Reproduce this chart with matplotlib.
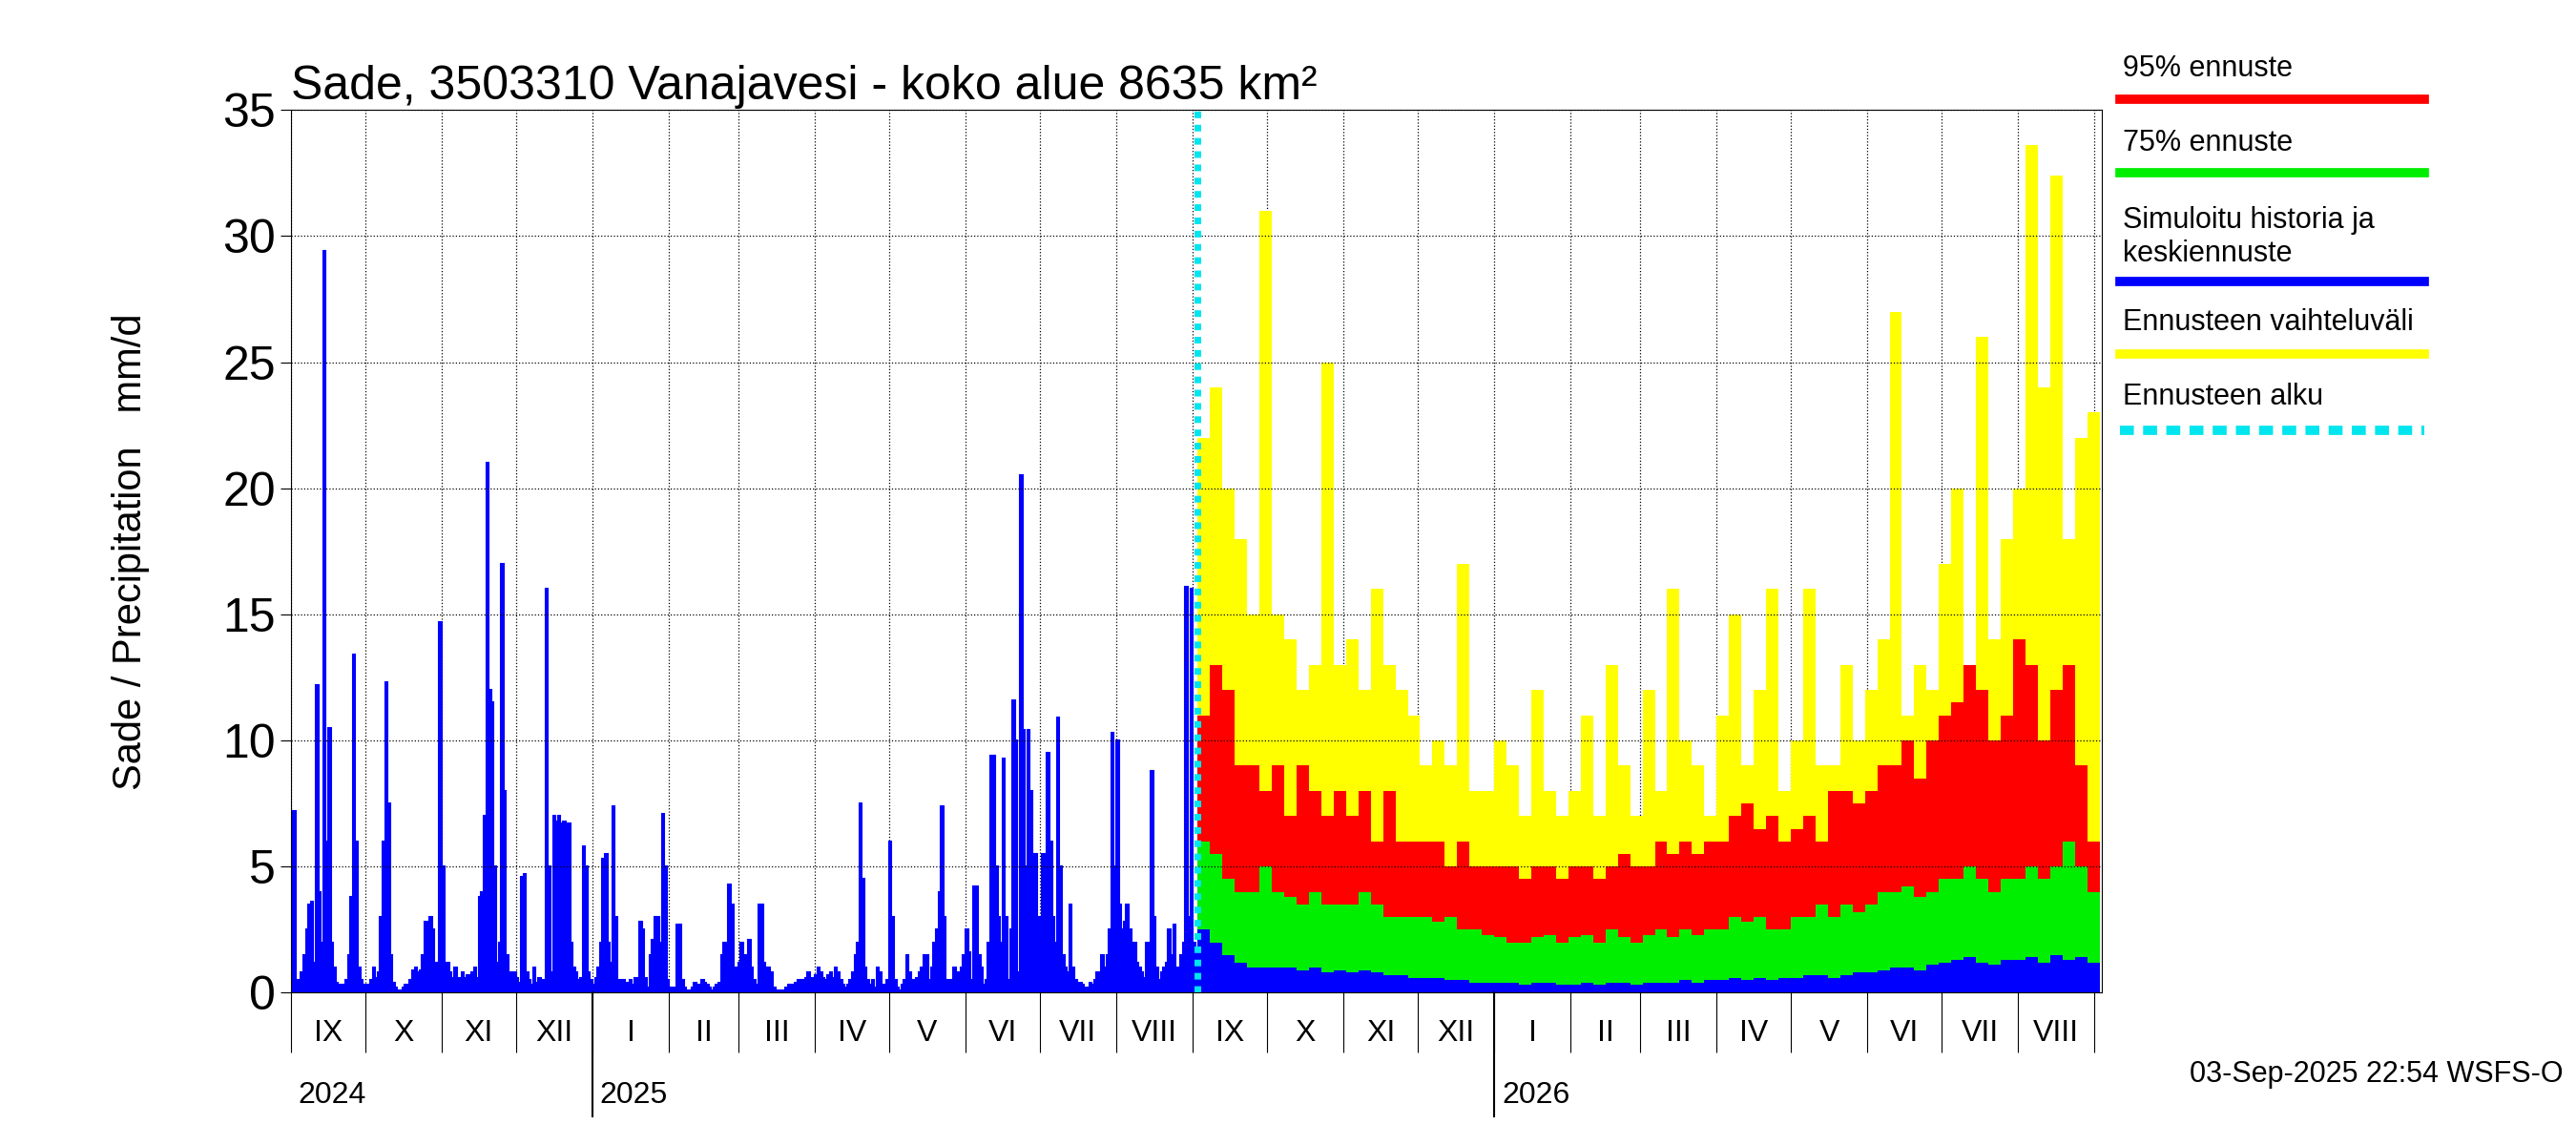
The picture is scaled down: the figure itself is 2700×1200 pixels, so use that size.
import numpy as np
import matplotlib.pyplot as plt
from matplotlib.lines import Line2D

plt.rcParams['font.family'] = 'Liberation Sans'

# daily observed/simulated precipitation from 2024-09-01, mm/d
history = [
    7.2, 7.2, 0.5, 0.3, 0.8, 1.5, 2.5, 3.5, 3.6, 1.2,
    12.2, 4, 2, 29.4, 6, 10.5, 2, 1, 0.4, 0.3,
    0.2, 0.3, 0.5, 1.5, 3.8, 13.4, 6, 1, 0.5, 0.3,
    0.2, 0.3, 0.5, 1, 0.6, 0.8, 3, 6, 12.3, 7.5,
    1.5, 0.4, 0.2, 0.1, 0.1, 0.2, 0.3, 0.2, 0.5, 0.9,
    1, 0.8, 0.9, 1.5, 2.8, 2.2, 3, 2.5, 1.2, 0.8,
    14.7, 5, 0.6, 1.2, 0.8, 0.6, 1, 0.5, 0.6, 0.8,
    0.6, 0.7, 0.6, 0.8, 1, 0.6, 3.8, 4, 7, 21,
    12, 11.5, 5, 1.2, 2, 17, 8, 1.5, 0.8, 0.5,
    0.8, 0.6, 0.4, 4.6, 4.7, 0.8, 0.5, 0.3, 1, 0.4,
    0.6, 0.3, 0.5, 16, 5, 0.8, 7, 6.8, 7, 6.7,
    6.8, 6.7, 6.7, 2, 1, 0.8, 0.5, 0.6, 5.8, 5,
    0.8, 0.5, 0.3, 0.6, 1, 2, 5.3, 5.5, 2, 1.2,
    7.4, 3, 0.5, 0.3, 0.5, 0.2, 0.4, 0.5, 0.3, 0.6,
    0.3, 2.8, 2.5, 0.6, 0.2, 1.5, 2.1, 3, 3, 2,
    7.1, 5, 0.5, 0.2, 0.1, 0.2, 2.7, 2.7, 0.5, 0.2,
    0.1, 0.1, 0.2, 0.4, 0.1, 0.3, 0.5, 0.4, 0.3, 0.2,
    0.1, 0.2, 0.3, 0.4, 1.5, 2, 1, 4.3, 3.5, 0.5,
    1, 1.2, 2, 1.5, 0.5, 2.1, 1, 0.5, 0.3, 3.5,
    3.5, 1.2, 1, 1, 0.8, 0.2, 0.1, 0.1, 0.1, 0.1,
    0.2, 0.3, 0.3, 0.2, 0.4, 0.5, 0.3, 0.5, 0.6, 0.8,
    0.5, 0.6, 0.7, 1, 0.8, 0.6, 0.5, 0.7, 0.8, 0.6,
    1, 0.8, 0.5, 0.3, 0.2, 0.3, 0.5, 0.8, 1.5, 2,
    7.5, 4.5, 1, 0.5, 0.3, 0.5, 0.2, 1, 0.8, 0.3,
    0.2, 0.5, 6, 3, 0.5, 0.2, 0.1, 0.3, 0.5, 1.5,
    0.8, 0.5, 0.3, 0.6, 0.8, 1, 1.5, 1.5, 0.5, 1,
    2, 2.5, 4, 7.4, 3, 0.5, 0.2, 0.5, 1, 0.4,
    0.8, 1, 1.5, 2.5, 1.6, 0.5, 4.2, 4.2, 1.5, 1,
    0.3, 0.5, 2, 9.4, 9.4, 5, 3, 2, 9.3, 3,
    0.5, 2.5, 11.6, 10, 0.8, 20.5, 10.4, 5, 10.4, 8,
    5.5, 5.5, 3, 1, 5.5, 2, 9.5, 6, 3, 2,
    10.9, 5, 1.5, 1, 0.8, 3.5, 1, 0.5, 0.3, 0.4,
    0.3, 0.2, 0.2, 0.4, 0.3, 0.5, 0.8, 0.6, 1.5, 1,
    1.5, 2.5, 10.3, 5, 10, 3.5, 2.5, 2.8, 3.5, 2.5,
    1.6, 2, 1.2, 1, 0.8, 0.6, 2, 1.5, 8.8, 3,
    1, 0.5, 0.8, 1, 1.2, 2.5, 1.5, 2.7, 1, 0.8,
    1.5, 2, 16.1, 3, 16, 2, 1.5, 1.8,
]

# forecast in 5-day steps from 2025-09-03
fc_max = [22, 24, 20, 18, 15, 31, 15, 14, 12, 13, 25, 13, 14, 12, 16, 13, 12, 11,
          9, 10, 9, 17, 8, 8, 10, 9, 7, 12, 8, 7, 8, 11, 7, 13, 9, 7,
          12, 8, 16, 10, 9, 7, 11, 15, 9, 12, 16, 8, 10, 16, 9, 9, 13, 10,
          12, 14, 27, 11, 13, 12, 17, 20, 13, 26, 14, 18, 20, 33.6, 24, 32.4, 18, 22, 23]
fc_95 = [11, 13, 12, 9, 9, 8, 9, 7, 9, 8, 7, 8, 7, 8, 6, 8, 6, 6,
         6, 6, 5, 6, 5, 5, 5, 5, 4.5, 5, 5, 4.5, 5, 5, 4.5, 5, 5.5, 5,
         5, 6, 5.5, 6, 5.5, 6, 6, 7, 7.5, 6.5, 7, 6, 6.5, 7, 6, 8, 8, 7.5,
         8, 9, 9, 10, 8.5, 10, 11, 11.5, 13, 12, 10, 11, 14, 13, 10, 12, 13, 9, 6]
fc_75 = [6, 5.5, 4.5, 4, 4, 5, 4, 3.8, 3.5, 4, 3.5, 3.5, 3.5, 4, 3.5, 3, 3, 3,
         3, 2.8, 3, 2.5, 2.5, 2.3, 2.2, 2, 2, 2.2, 2.3, 2, 2.2, 2.3, 2, 2.5, 2.2, 2,
         2.3, 2.5, 2.2, 2.5, 2.3, 2.5, 2.5, 3, 2.8, 3, 2.5, 2.5, 3, 3, 3.5, 3, 3.5, 3.2,
         3.5, 4, 4, 4.2, 3.8, 4, 4.5, 4.5, 5, 4.5, 4, 4.5, 4.5, 5, 4.5, 5, 6, 5, 4]
fc_med = [2.5, 2, 1.5, 1.2, 1, 1, 1, 1, 0.9, 1, 0.8, 0.9, 0.8, 0.9, 0.8, 0.7, 0.7, 0.6,
          0.6, 0.6, 0.5, 0.5, 0.4, 0.4, 0.4, 0.4, 0.3, 0.4, 0.4, 0.3, 0.3, 0.4, 0.3, 0.4, 0.4, 0.3,
          0.4, 0.4, 0.4, 0.5, 0.4, 0.5, 0.5, 0.6, 0.5, 0.6, 0.5, 0.6, 0.6, 0.7, 0.7, 0.6, 0.7, 0.8,
          0.8, 0.9, 1, 1, 0.9, 1.1, 1.2, 1.3, 1.4, 1.2, 1.1, 1.3, 1.3, 1.4, 1.2, 1.5, 1.3, 1.4, 1.2]

roman = ['I', 'II', 'III', 'IV', 'V', 'VI', 'VII', 'VIII', 'IX', 'X', 'XI', 'XII']

start = np.datetime64('2024-09-01')
fc_start = np.datetime64('2025-09-03')
end = np.datetime64('2026-09-04')


def day(d):
    return (np.datetime64(d) - start).astype(int)


fig = plt.figure(figsize=(27, 12), dpi=100)
ax = fig.add_axes([0.113, 0.133, 0.703, 0.771])

x0 = day(fc_start)
hx = np.arange(len(history))
ax.bar(hx, history, width=1.0, align='edge', color='#0000ff', edgecolor='#0000ff', linewidth=1.5)

fx = x0 + 5 * np.arange(len(fc_max) + 1)
for vals, col in [(fc_max, '#ffff00'), (fc_95, '#ff0000'), (fc_75, '#00ee00'), (fc_med, '#0000ff')]:
    v = list(vals) + [vals[-1]]
    ax.fill_between(fx, 0, v, step='post', color=col, linewidth=0)

ax.axvline(x0, color='#00e5ee', linestyle=(0, (1, 1)), linewidth=5)

xmax = day(end)
ax.set_xlim(0, xmax)
ax.set_ylim(0, 35)
ax.set_yticks(range(0, 36, 5))
ax.tick_params(axis='y', labelsize=36, length=8)
ax.set_ylabel('Sade / Precipitation   mm/d', fontsize=30, labelpad=55)
ax.set_title('Sade, 3503310 Vanajavesi - koko alue 8635 km²', fontsize=36, loc='left', x=0.0, pad=8)

months = np.arange(np.datetime64('2024-09'), np.datetime64('2026-10'), np.timedelta64(1, 'M'))
bounds = [day(m.astype('datetime64[D]')) for m in months]
bounds = [b for b in bounds if b <= xmax]
for b in bounds:
    ax.axvline(b, color='black', linestyle=':', linewidth=0.9, zorder=0.5)
ax.grid(axis='y', color='black', linestyle=':', linewidth=0.9)
ax.set_xticks(bounds)
ax.set_xticklabels([])
ax.tick_params(axis='x', length=45, direction='out')

trans = ax.get_xaxis_transform()
for i, b in enumerate(bounds):
    m = months[i]
    nxt = bounds[i + 1] if i + 1 < len(bounds) else xmax
    mi = int(str(m)[5:7])
    if nxt - b > 10:
        ax.text((b + nxt) / 2, -0.03, roman[mi - 1], transform=trans, ha='center', va='top', fontsize=23)
    if mi == 1:
        ax.plot([b, b], [0, -0.14], transform=trans, color='black', linewidth=1.5, clip_on=False)
        ax.text(b + 3, -0.1, str(m)[:4], transform=trans, ha='left', va='top', fontsize=23)
ax.text(3, -0.1, '2024', transform=trans, ha='left', va='top', fontsize=23)

# legend on the right
items = [('95% ennuste', 0.94, 0.913, '#ff0000', '-'),
         ('75% ennuste', 0.875, 0.849, '#00ee00', '-'),
         ('Simuloitu historia ja\nkeskiennuste', 0.793, 0.754, '#0000ff', '-'),
         ('Ennusteen vaihteluväli', 0.718, 0.691, '#ffff00', '-'),
         ('Ennusteen alku', 0.653, 0.624, '#00e5ee', (0, (1.5, 1)))]
for label, ty, ly, col, ls in items:
    fig.text(0.824, ty, label, fontsize=22, va='center', ha='left')
    fig.add_artist(Line2D([0.823, 0.941], [ly, ly], color=col, linewidth=7, linestyle=ls))

fig.text(0.995, 0.062, '03-Sep-2025 22:54 WSFS-O', fontsize=22, ha='right', va='center')

fig.savefig('out.png', dpi=100)
